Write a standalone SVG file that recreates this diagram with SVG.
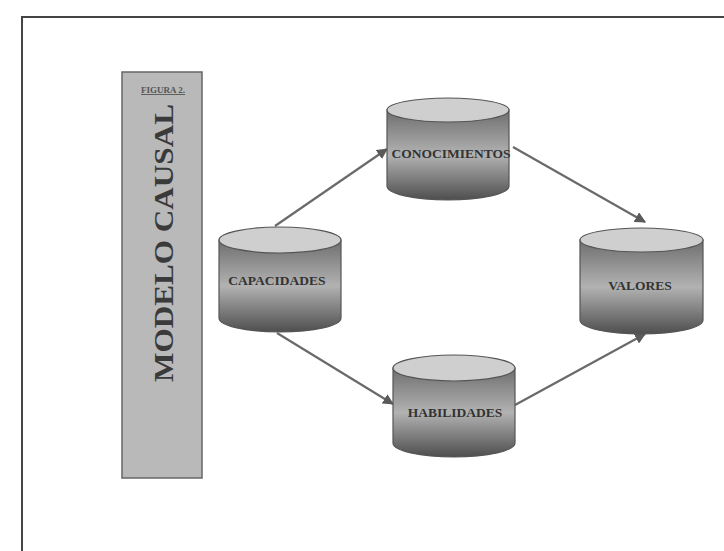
<svg xmlns="http://www.w3.org/2000/svg" width="724" height="551" viewBox="0 0 724 551">
<style>
.lbl{font-family:"Liberation Serif","Times New Roman",serif;font-weight:bold;font-size:13.5px;fill:#333;text-anchor:middle}
.top{fill:#cfcfcf;stroke:#555;stroke-width:1.2}
.body{fill:url(#cyl);stroke:#555;stroke-width:1.2}
.conn{stroke:#6a6a6a;stroke-width:2.2;fill:none;marker-end:url(#ah)}
</style>
<defs>
<linearGradient id="cyl" x1="0" y1="0" x2="0" y2="1">
<stop offset="0" stop-color="#6e6e6e"/>
<stop offset="0.5" stop-color="#b2b2b2"/>
<stop offset="1" stop-color="#4e4e4e"/>
</linearGradient>
<marker id="ah" viewBox="0 0 10 10" refX="9" refY="5" markerWidth="5" markerHeight="5" orient="auto" markerUnits="strokeWidth">
<path d="M0,0 L10,5 L0,10 z" fill="#5a5a5a"/>
</marker>
</defs>
<rect width="724" height="551" fill="#fff"/>
<path d="M22,551 L22,17 L724,17" fill="none" stroke="#444" stroke-width="2"/>
<g id="panel">
<rect x="122" y="72" width="80" height="406" fill="#b9b9b9" stroke="#666" stroke-width="1.5"/>
<text x="163" y="93" font-family="Liberation Serif,serif" font-weight="bold" font-size="9" fill="#555" text-anchor="middle" text-decoration="underline">FIGURA 2.</text>
<text transform="translate(173,243) rotate(-90)" font-family="Liberation Serif,serif" font-weight="bold" font-size="27" fill="#3a3a3a" text-anchor="middle" textLength="278" lengthAdjust="spacingAndGlyphs">MODELO CAUSAL</text>
</g>
<g id="connectors">
<line class="conn" x1="275" y1="226" x2="387" y2="149"/>
<line class="conn" x1="513" y1="147" x2="645" y2="222"/>
<line class="conn" x1="277" y1="333" x2="393" y2="404"/>
<line class="conn" x1="515" y1="405" x2="645" y2="334"/>
</g>
<g id="capacidades">
<path class="body" d="M219,240 L219,318 A61,14 0 0 0 341,318 L341,240 Z"/>
<ellipse class="top" cx="280" cy="240" rx="61" ry="13"/>
<text class="lbl" x="277" y="285">CAPACIDADES</text>
</g>
<g id="conocimientos">
<path class="body" d="M387,110 L387,186 A61,14 0 0 0 509,186 L509,110 Z"/>
<ellipse class="top" cx="448" cy="110" rx="61" ry="12"/>
<text class="lbl" x="451" y="158">CONOCIMIENTOS</text>
</g>
<g id="habilidades">
<path class="body" d="M393,368 L393,443 A61,14 0 0 0 515,443 L515,368 Z"/>
<ellipse class="top" cx="454" cy="368" rx="61" ry="13"/>
<text class="lbl" x="455" y="417">HABILIDADES</text>
</g>
<g id="valores">
<path class="body" d="M580,240 L580,320 A61.5,14 0 0 0 703,320 L703,240 Z"/>
<ellipse class="top" cx="641.5" cy="240" rx="61.5" ry="12"/>
<text class="lbl" x="640" y="290">VALORES</text>
</g>
</svg>
